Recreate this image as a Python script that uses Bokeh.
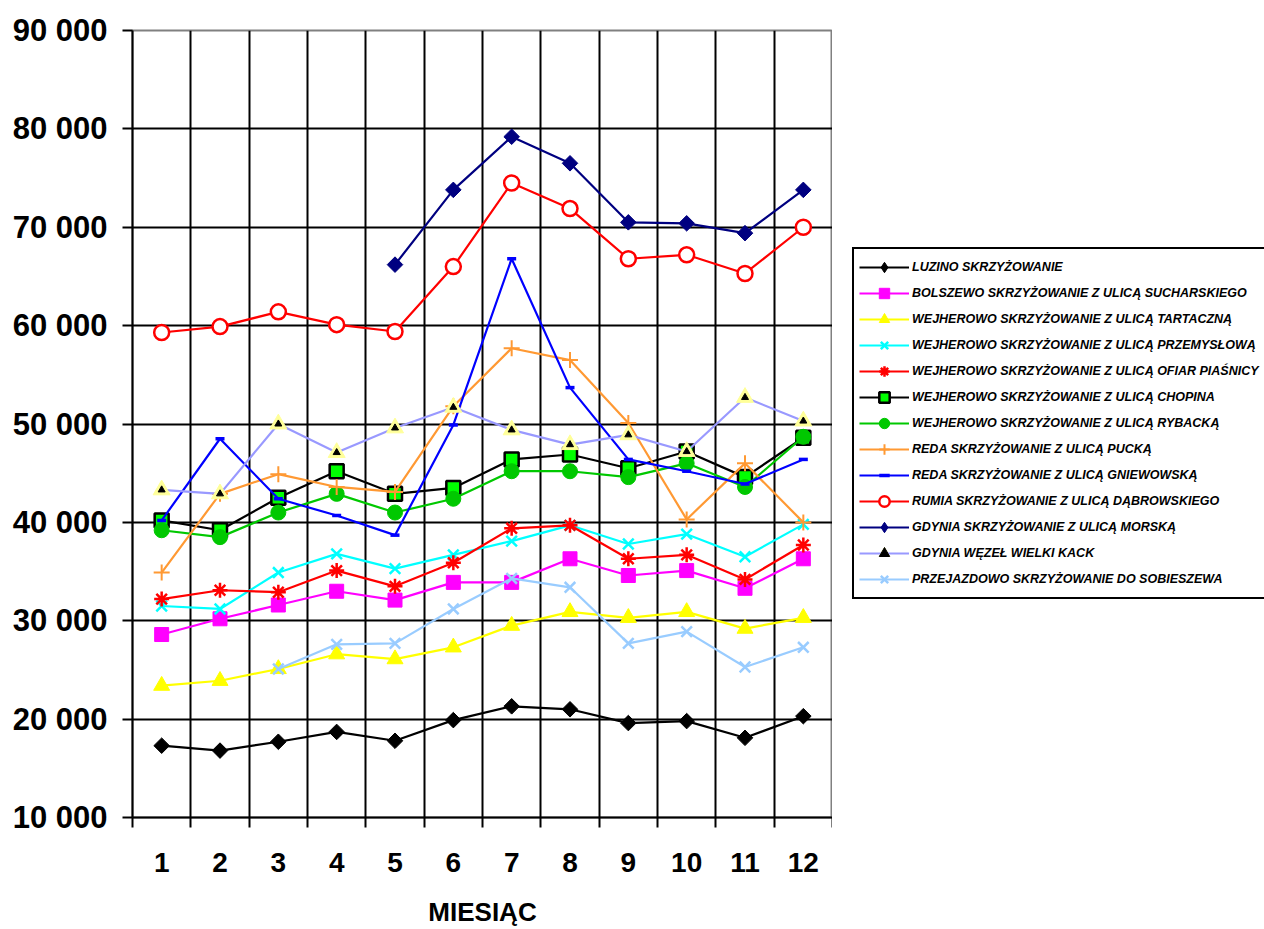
import math
from bokeh.plotting import figure
from bokeh.layouts import row
from bokeh.models import Range1d, FixedTicker, Legend, LegendItem
from bokeh.embed import file_html
from bokeh.resources import INLINE

nan = float("nan")
months = list(range(1, 13))
month_labels = [str(m) for m in months]
y_ticks = [10000, 20000, 30000, 40000, 50000, 60000, 70000, 80000, 90000]

names = [
    "LUZINO SKRZYŻOWANIE",
    "BOLSZEWO SKRZYŻOWANIE Z ULICĄ SUCHARSKIEGO",
    "WEJHEROWO SKRZYŻOWANIE Z ULICĄ TARTACZNĄ",
    "WEJHEROWO SKRZYŻOWANIE Z ULICĄ PRZEMYSŁOWĄ",
    "WEJHEROWO SKRZYŻOWANIE Z ULICĄ OFIAR PIAŚNICY",
    "WEJHEROWO SKRZYŻOWANIE Z ULICĄ CHOPINA",
    "WEJHEROWO SKRZYŻOWANIE Z ULICĄ RYBACKĄ",
    "REDA SKRZYŻOWANIE Z ULICĄ PUCKĄ",
    "REDA SKRZYŻOWANIE Z ULICĄ GNIEWOWSKĄ",
    "RUMIA SKRZYŻOWANIE Z ULICĄ DĄBROWSKIEGO",
    "GDYNIA SKRZYŻOWANIE Z ULICĄ MORSKĄ",
    "GDYNIA WĘZEŁ WIELKI KACK",
    "PRZEJAZDOWO SKRZYŻOWANIE DO SOBIESZEWA",
]

luzino = [17300, 16800, 17700, 18700, 17800, 19900, 21300, 21000, 19600, 19800, 18100, 20300]
bolszewo = [28600, 30200, 31600, 33000, 32100, 33900, 33900, 36300, 34600, 35100, 33300, 36300]
tartaczna = [23400, 23900, 25100, 26600, 26100, 27300, 29500, 30900, 30300, 30900, 29200, 30300]
przemyslowa = [31500, 31200, 34900, 36800, 35300, 36700, 38100, 39700, 37800, 38800, 36500, 39800]
ofiar = [32200, 33100, 32900, 35100, 33500, 35900, 39400, 39700, 36300, 36700, 34200, 37700]
chopina = [40200, 39200, 42500, 45200, 42900, 43500, 46400, 46900, 45500, 47200, 44600, 48600]
rybacka = [39200, 38500, 41000, 42900, 41000, 42400, 45200, 45200, 44600, 46000, 43600, 48700]
pucka = [34900, 42900, 44900, 43600, 43100, 51800, 57700, 56500, 50100, 40300, 46000, 40000]
gniewowska = [40200, 48500, 42400, 40700, 38700, 49900, 66800, 53700, 46400, 45200, 43900, 46400]
rumia = [59300, 59900, 61400, 60100, 59400, 66000, 74500, 71900, 66800, 67200, 65300, 70000]
morska = [nan, nan, nan, nan, 66200, 73800, 79200, 76500, 70500, 70400, 69400, 73800]
kack = [43300, 42900, 50000, 47100, 49600, 51700, 49400, 47900, 48900, 47200, 52700, 50300]
przejazdowo = [nan, nan, 25100, 27600, 27700, 31200, 34300, 33400, 27700, 28900, 25300, 27300]

series = [luzino, bolszewo, tartaczna, przemyslowa, ofiar, chopina, rybacka,
          pucka, gniewowska, rumia, morska, kack, przejazdowo]

FONT = "Liberation Sans"

p = figure(width=832, height=929,
           x_range=Range1d(0.5, 12.5), y_range=Range1d(10000, 90000),
           output_backend="svg", toolbar_location=None,
           min_border_left=132, min_border_top=30, min_border_bottom=112,
           min_border_right=0)
p.background_fill_color = "white"
p.border_fill_color = "white"
p.outline_line_color = "#808080"
p.outline_line_width = 2

boundaries = [m - 0.5 for m in months] + [12.5]

xa = p.xaxis[0]
xa.ticker = FixedTicker(ticks=months, minor_ticks=boundaries)
xa.major_label_overrides = {m: lab for m, lab in zip(months, month_labels)}
xa.major_tick_out = 0
xa.major_tick_in = 0
xa.minor_tick_out = 10
xa.minor_tick_in = 0
xa.minor_tick_line_color = "black"
xa.minor_tick_line_width = 2
xa.axis_line_color = "black"
xa.axis_line_width = 2
xa.major_label_text_font = FONT
xa.major_label_text_font_size = "28px"
xa.major_label_text_font_style = "bold"
xa.major_label_text_color = "black"
xa.major_label_standoff = 25
xa.axis_label = "MIESIĄC"
xa.axis_label_text_font = FONT
xa.axis_label_text_font_size = "26px"
xa.axis_label_text_font_style = "bold"
xa.axis_label_text_color = "black"
xa.axis_label_standoff = 22

ya = p.yaxis[0]
ya.ticker = FixedTicker(ticks=y_ticks)
ya.major_label_overrides = {v: f"{v:,}".replace(",", " ") for v in y_ticks}
ya.major_tick_out = 10
ya.major_tick_in = 0
ya.major_tick_line_color = "black"
ya.major_tick_line_width = 2
ya.minor_tick_out = 0
ya.minor_tick_in = 0
ya.axis_line_color = "black"
ya.axis_line_width = 2
ya.major_label_text_font = FONT
ya.major_label_text_font_size = "31px"
ya.major_label_text_font_style = "bold"
ya.major_label_text_color = "black"
ya.major_label_standoff = 15

p.xgrid.ticker = FixedTicker(ticks=boundaries[1:-1])
p.xgrid.grid_line_color = "black"
p.xgrid.grid_line_width = 2
p.ygrid.ticker = FixedTicker(ticks=y_ticks[1:-1])
p.ygrid.grid_line_color = "black"
p.ygrid.grid_line_width = 2

styles = [
    dict(line="black", marker="square", size=11, angle=math.pi / 4, fill="black", mline="black", lw=1, lm="diamond"),
    dict(line="#FF00FF", marker="square", size=14, angle=0, fill="#FF00FF", mline="#FF00FF", lw=1, lm="square"),
    dict(line="#FFFF00", marker="triangle", size=16, angle=0, fill="#FFFF00", mline="#FFFF00", lw=1, lm="triangle"),
    dict(line="#00FFFF", marker="x", size=15, angle=0, fill="#00FFFF", mline="#00FFFF", lw=2.5, lm="x"),
    dict(line="#FF0000", marker="asterisk", size=15, angle=0, fill="#FF0000", mline="#FF0000", lw=2.5, lm="asterisk"),
    dict(line="black", marker="square", size=14, angle=0, fill="#00FF00", mline="black", lw=2.5, lm="square"),
    dict(line="#00C800", marker="circle", size=15, angle=0, fill="#00C800", mline="#00C800", lw=1, lm="circle"),
    dict(line="#FF9933", marker="cross", size=16, angle=0, fill="#FF9933", mline="#FF9933", lw=2, lm="cross"),
    dict(line="#0000FF", marker="dash", size=9, angle=0, fill="#0000FF", mline="#0000FF", lw=3.5, lm="dash"),
    dict(line="#FF0000", marker="circle", size=15, angle=0, fill="white", mline="#FF0000", lw=2.5, lm="circle"),
    dict(line="#000080", marker="square", size=11, angle=math.pi / 4, fill="#000080", mline="#000080", lw=1, lm="diamond"),
    dict(line="#9999FF", marker="triangle", size=17, angle=0, fill="#FFFF99", mline="#FFFF99", lw=1, lm="triangle"),
    dict(line="#99CCFF", marker="x", size=15, angle=0, fill="#99CCFF", mline="#99CCFF", lw=2.5, lm="x"),
]

# legend lives in its own figure to the right of the chart
pl = figure(width=432, height=929, x_range=Range1d(100, 101), y_range=Range1d(0, 1),
            output_backend="svg", toolbar_location=None,
            x_axis_type=None, y_axis_type=None,
            min_border_left=0, min_border_right=0, min_border_top=0, min_border_bottom=0)
pl.outline_line_color = None
pl.background_fill_color = "white"
pl.border_fill_color = "white"
pl.xgrid.visible = False
pl.ygrid.visible = False

def draw(fig, vals, st, name, marker):
    rs = [fig.line(months, vals, line_color=st["line"], line_width=2.2)]
    rs.append(fig.scatter(months, vals, marker=marker, size=st["size"],
                          angle=st["angle"] if marker == st["marker"] else 0,
                          fill_color=st["fill"], line_color=st["mline"], line_width=st["lw"]))
    if name == "GDYNIA WĘZEŁ WIELKI KACK":
        rs.append(fig.scatter(months, vals, marker="triangle", size=7,
                              fill_color="black", line_color="black"))
    return rs

items = []
for name, vals, st in zip(names, series, styles):
    draw(p, vals, st, name, st["marker"])
    rs = draw(pl, vals, st, name, st["lm"])
    items.append(LegendItem(label=name, renderers=rs))

legend = Legend(items=items, location=(20, 218))
legend.margin = 0
legend.padding = 5
legend.spacing = 0
legend.glyph_width = 50
legend.glyph_height = 26
legend.label_height = 20
legend.label_standoff = 3
legend.label_text_font = FONT
legend.label_text_font_size = "12.5px"
legend.label_text_font_style = "bold italic"
legend.label_text_color = "black"
legend.border_line_color = "black"
legend.border_line_width = 2
legend.border_line_alpha = 1
legend.background_fill_color = "white"
legend.background_fill_alpha = 1
pl.add_layout(legend, "center")

layout = row(p, pl)
open("out.html", "w").write(file_html(layout, INLINE))
